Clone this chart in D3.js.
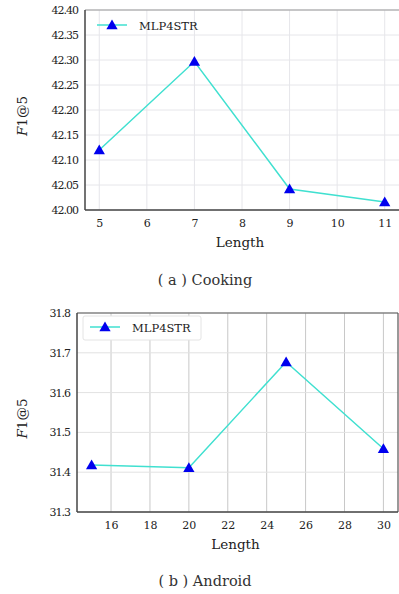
<!DOCTYPE html>
<html>
<head>
<meta charset="utf-8">
<script src="https://cdn.jsdelivr.net/npm/d3@7"></script>
<style>
  body { margin: 0; background: #fff; }
  svg { display: block; }
</style>
</head>
<body>
<svg id="chart" width="399" height="594"></svg>
<script>
// data
const cookingLength = [5, 7, 9, 11];
const cookingF1 = [42.12, 42.297, 42.042, 42.016];
const cookingXTicks = [5, 6, 7, 8, 9, 10, 11];
const cookingYTicks = [42.00, 42.05, 42.10, 42.15, 42.20, 42.25, 42.30, 42.35, 42.40];

const androidLength = [15, 20, 25, 30];
const androidF1 = [31.418, 31.411, 31.677, 31.459];
const androidXTicks = [16, 18, 20, 22, 24, 26, 28, 30];
const androidYTicks = [31.3, 31.4, 31.5, 31.6, 31.7, 31.8];

const seriesName = "MLP4STR";

const svg = d3.select("#chart");
const serif = "DejaVu Serif";

function panel(opt) {
  const g = svg.append("g");
  const x = d3.scaleLinear().domain(opt.xDomain).range([opt.left, opt.right]);
  const y = d3.scaleLinear().domain(opt.yDomain).range([opt.bottom, opt.top]);

  // grid
  g.append("g").selectAll("line")
    .data(opt.xTicks)
    .join("line")
      .attr("x1", d => x(d)).attr("x2", d => x(d))
      .attr("y1", opt.top).attr("y2", opt.bottom)
      .attr("stroke", opt.vGridColor).attr("stroke-width", 1);
  g.append("g").selectAll("line")
    .data(opt.yTicks)
    .join("line")
      .attr("x1", opt.left).attr("x2", opt.right)
      .attr("y1", d => y(d)).attr("y2", d => y(d))
      .attr("stroke", opt.hGridColor).attr("stroke-width", 1);

  // frame
  g.append("line").attr("x1", opt.left).attr("x2", opt.right)
    .attr("y1", opt.top).attr("y2", opt.top)
    .attr("stroke", opt.frameColor).attr("stroke-width", 1.2);
  if (opt.rightBorder) {
    g.append("line").attr("x1", opt.right).attr("x2", opt.right)
      .attr("y1", opt.top).attr("y2", opt.bottom)
      .attr("stroke", opt.frameColor).attr("stroke-width", 1.2);
  }

  // axes
  const xAxis = g.append("g")
    .attr("transform", `translate(0,${opt.bottom})`)
    .call(d3.axisBottom(x).tickValues(opt.xTicks).tickSize(0).tickPadding(9).tickFormat(d3.format("d")));
  xAxis.attr("font-family", serif).attr("font-size", 11);
  xAxis.select(".domain").attr("stroke", "#444").attr("stroke-width", 1.5)
    .attr("d", `M${opt.left},0H${opt.right}`);
  xAxis.selectAll("text").attr("fill", "#222");

  const yAxis = g.append("g")
    .attr("transform", `translate(${opt.left},0)`)
    .call(d3.axisLeft(y).tickValues(opt.yTicks).tickSize(0).tickPadding(7).tickFormat(d3.format(opt.yFormat)));
  yAxis.attr("font-family", serif).attr("font-size", 11);
  yAxis.select(".domain").attr("stroke", "#444").attr("stroke-width", 1.5)
    .attr("d", `M0,${opt.top}V${opt.bottom}`);
  yAxis.selectAll("text").attr("fill", "#222").attr("letter-spacing", "-1px");

  // line + markers
  const pts = opt.xs.map((d, i) => [d, opt.ys[i]]);
  g.append("path")
    .datum(pts)
    .attr("fill", "none")
    .attr("stroke", "#40e0d0")
    .attr("stroke-width", 1.5)
    .attr("d", d3.line().x(d => x(d[0])).y(d => y(d[1])));

  const tri = d3.symbol().type(d3.symbolTriangle).size(55);
  g.append("g").selectAll("path")
    .data(pts)
    .join("path")
      .attr("transform", d => `translate(${x(d[0])},${y(d[1]) + 1})`)
      .attr("d", tri)
      .attr("fill", "#0000ee");

  // legend
  if (opt.legendBox) {
    g.append("rect")
      .attr("x", opt.legendBox[0]).attr("y", opt.legendBox[1])
      .attr("width", opt.legendBox[2]).attr("height", opt.legendBox[3])
      .attr("fill", "#fff").attr("stroke", "#e4e4e4").attr("rx", 2);
  }
  g.append("line")
    .attr("x1", opt.legend[0]).attr("x2", opt.legend[0] + 30)
    .attr("y1", opt.legend[1]).attr("y2", opt.legend[1])
    .attr("stroke", "#40e0d0").attr("stroke-width", 1.5);
  g.append("path")
    .attr("transform", `translate(${opt.legend[0] + 15},${opt.legend[1] + 1})`)
    .attr("d", tri).attr("fill", "#0000ee");
  g.append("text")
    .attr("x", opt.legend[0] + 42).attr("y", opt.legend[1] + 4.5)
    .attr("font-family", serif).attr("font-size", 11.5).attr("fill", "#222")
    .text(seriesName);

  // axis titles
  g.append("text")
    .attr("x", (opt.left + opt.right) / 2 - 2).attr("y", opt.bottom + 37)
    .attr("text-anchor", "middle")
    .attr("font-family", serif).attr("font-size", 13.5).attr("fill", "#222")
    .text("Length");

  const yl = g.append("text")
    .attr("transform", `translate(${opt.yLabelX},${(opt.top + opt.bottom) / 2 + 6}) rotate(-90)`)
    .attr("text-anchor", "middle")
    .attr("font-family", serif).attr("font-size", 13.5).attr("fill", "#222");
  yl.append("tspan").attr("font-style", "italic").text("F");
  yl.append("tspan").text("1@5");

  // caption
  g.append("text")
    .attr("x", 205).attr("y", opt.captionY)
    .attr("text-anchor", "middle")
    .attr("font-family", serif).attr("font-size", 14.5).attr("fill", "#333")
    .text(opt.caption);
}

panel({
  xs: cookingLength, ys: cookingF1,
  xTicks: cookingXTicks, yTicks: cookingYTicks,
  xDomain: [4.7, 11.3], yDomain: [42.0, 42.4],
  left: 85, right: 399, top: 10, bottom: 210,
  yFormat: ".2f",
  vGridColor: "#e6e6ea", hGridColor: "#e6e6ea", frameColor: "#999",
  rightBorder: false,
  legend: [97, 25], legendBox: null,
  yLabelX: 27, captionY: 285, caption: "( a ) Cooking"
});

panel({
  xs: androidLength, ys: androidF1,
  xTicks: androidXTicks, yTicks: androidYTicks,
  xDomain: [14.25, 30.75], yDomain: [31.3, 31.8],
  left: 77, right: 398, top: 313, bottom: 512,
  yFormat: ".1f",
  vGridColor: "#c8c8c8", hGridColor: "#e2e2e2", frameColor: "#555",
  rightBorder: true,
  legend: [90, 327], legendBox: [83, 316, 118, 24],
  yLabelX: 27, captionY: 586, caption: "( b ) Android"
});
</script>
</body>
</html>
